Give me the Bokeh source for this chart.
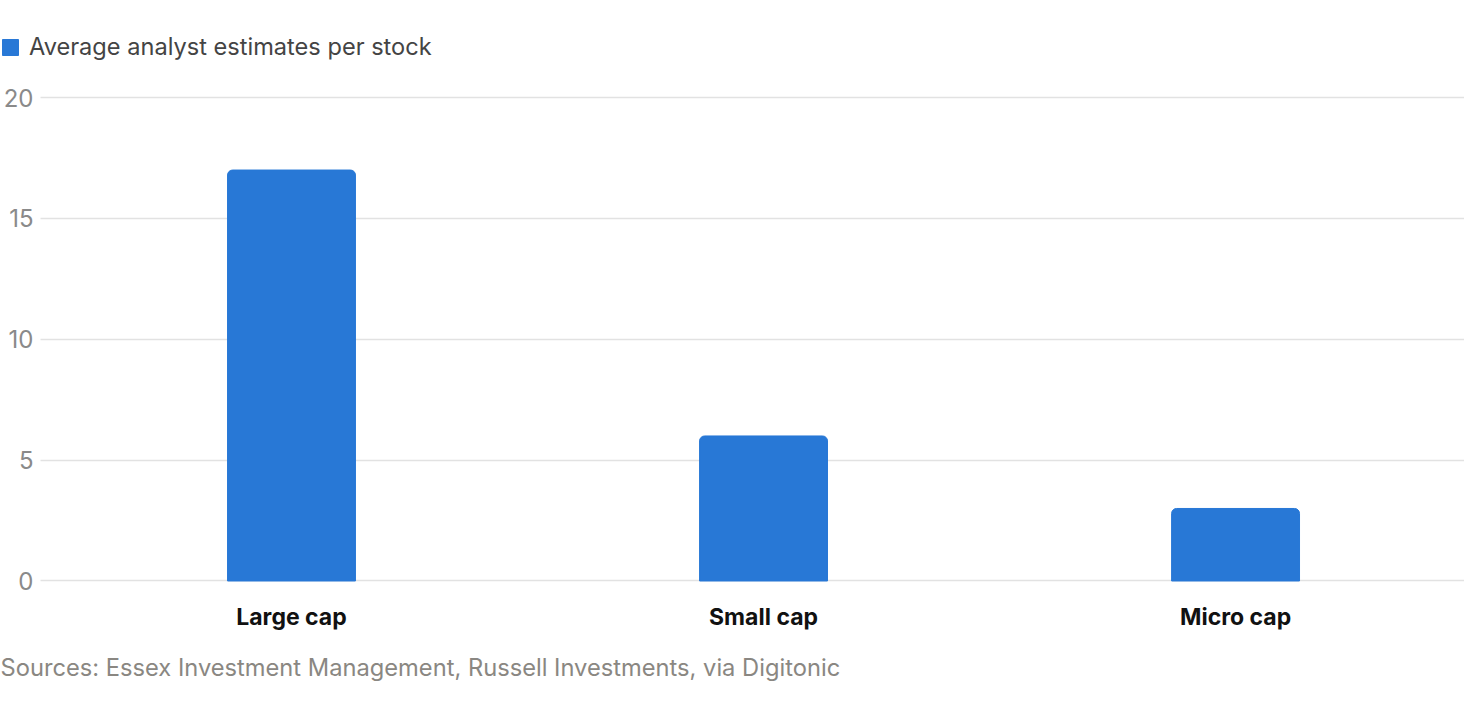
from bokeh.plotting import figure
from bokeh.models import Range1d, FixedTicker, Legend, Title, LinearAxis
from bokeh.embed import file_html
from bokeh.resources import INLINE

# Data
categories = ["Large cap", "Small cap", "Micro cap"]
estimates = [17, 6, 3]
series_name = "Average analyst estimates per stock"
y_ticks = [0, 5, 10, 15, 20]
source_note = "Sources: Essex Investment Management, Russell Investments, via Digitonic"

FONT = "Inter"
BLUE = "#2878d6"

x_pos = [i + 0.5 for i in range(len(categories))]
x_start, x_end = -0.1165, 2.985
axis_x = -0.0318   # where the value axis / gridlines begin

p = figure(width=1464, height=700,
           x_range=Range1d(x_start, x_end), y_range=Range1d(-0.6, 23.6),
           output_backend="svg", toolbar_location=None,
           y_axis_location=None,
           min_border_left=0, min_border_right=0,
           min_border_top=10, min_border_bottom=105)
p.outline_line_color = None
p.background_fill_color = "white"
p.border_fill_color = "white"

# bars with rounded tops
bars = p.vbar(x=x_pos, top=estimates, width=0.271, bottom=0,
              color=BLUE, border_radius=(5, 5, 0, 0))

# x axis: category names
p.xaxis.ticker = FixedTicker(ticks=x_pos)
p.xaxis.major_label_overrides = {x: c for x, c in zip(x_pos, categories)}
p.xaxis.axis_line_color = None
p.xaxis.major_tick_line_color = None
p.xaxis.minor_tick_line_color = None
p.xaxis.major_tick_out = 0
p.xaxis.major_label_text_font = FONT
p.xaxis.major_label_text_font_size = "23px"
p.xaxis.major_label_text_font_style = "bold"
p.xaxis.major_label_text_color = "#111111"
p.xaxis.major_label_standoff = 7
p.xgrid.grid_line_color = None

# y axis, pinned inside the frame so the legend can sit flush left above it
yaxis = LinearAxis(fixed_location=axis_x, ticker=FixedTicker(ticks=y_ticks),
                   axis_line_color=None, major_tick_line_color=None,
                   minor_tick_line_color=None, major_tick_out=0,
                   major_label_text_font=FONT, major_label_text_font_size="24px",
                   major_label_text_color="#8a8a8a", major_label_standoff=7)
p.add_layout(yaxis, "left")
p.ygrid.ticker = FixedTicker(ticks=y_ticks)
p.ygrid.cross_bounds = (axis_x, x_end)
p.ygrid.grid_line_color = "#e2e2e2"
p.ygrid.grid_line_width = 1.5

legend = Legend(items=[(series_name, [bars])], location=(0, 534),
                orientation="horizontal", margin=0, padding=0,
                glyph_width=20, glyph_height=20, label_standoff=9,
                label_text_font=FONT, label_text_font_size="23.6px",
                label_text_color="#444444",
                border_line_color=None, background_fill_alpha=0)
p.add_layout(legend, "center")

# source note
src = Title(text=source_note, align="left", offset=0, standoff=34,
            text_font=FONT, text_font_size="23.7px", text_font_style="normal",
            text_color="#8a8782")
p.add_layout(src, "below")

open("out.html", "w").write(file_html(p, INLINE))
